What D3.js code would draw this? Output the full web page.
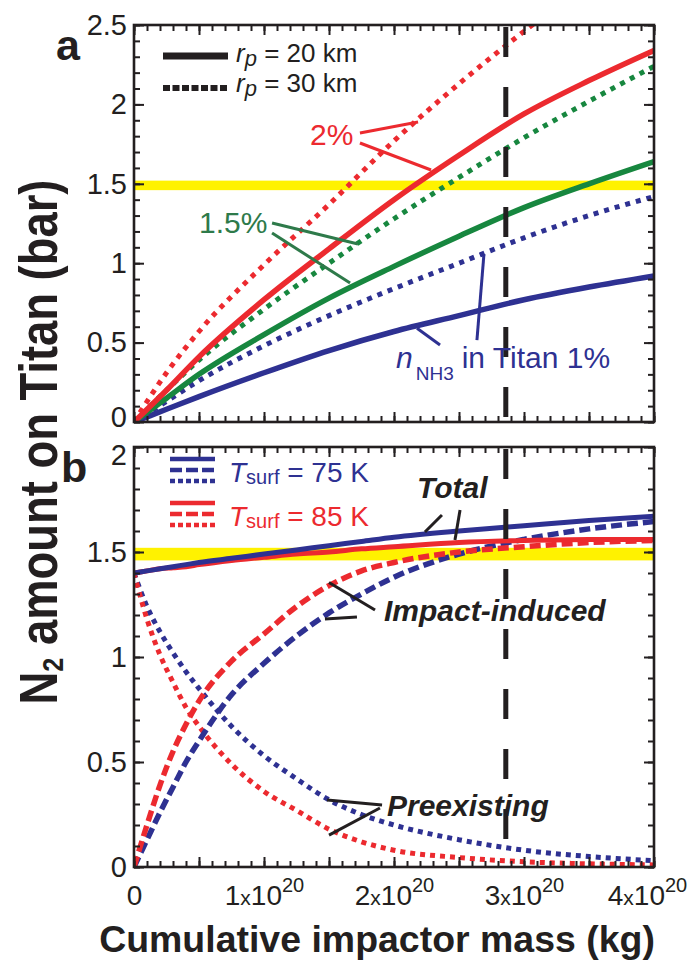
<!DOCTYPE html>
<html><head><meta charset="utf-8">
<script src="https://cdn.jsdelivr.net/npm/d3@7"></script>
<style>
body{margin:0;background:#fff}
svg{display:block}
text{font-family:"Liberation Sans",Arial,Helvetica,sans-serif}
</style>
</head><body>
<svg id="c" width="689" height="969"></svg>
<script>
// ---------------- DATA ----------------
// Panel a: x = cumulative impactor mass (1e20 kg), y = N2 amount (bar)
const massA   = [0, 0.25, 0.5, 1, 1.5, 2, 2.5, 3, 3.5, 4];
const red20   = [0, 0.20, 0.41, 0.77, 1.09, 1.40, 1.68, 1.94, 2.15, 2.34];
const red30   = [0, 0.31, 0.57, 0.99, 1.37, 1.77, 2.13, 2.46, 2.77, 3.05];
const green20 = [0, 0.15, 0.30, 0.55, 0.78, 0.98, 1.17, 1.35, 1.50, 1.64];
const green30 = [0, 0.20, 0.39, 0.71, 1.00, 1.28, 1.54, 1.79, 2.02, 2.24];
const blue20  = [0, 0.08, 0.16, 0.31, 0.45, 0.57, 0.67, 0.77, 0.85, 0.92];
const blue30  = [0, 0.13, 0.26, 0.48, 0.67, 0.84, 1.00, 1.16, 1.30, 1.42];

// Panel b
const massB       = [0, 0.1, 0.2, 0.3, 0.4, 0.5, 0.75, 1, 1.25, 1.5, 1.75, 2, 2.5, 3, 3.5, 4];
const totalBlue   = [1.40,1.41,1.42,1.43,1.44,1.45,1.47,1.49,1.51,1.53,1.55,1.57,1.60,1.625,1.65,1.67];
const totalRed    = [1.40,1.41,1.42,1.425,1.43,1.44,1.46,1.475,1.49,1.50,1.515,1.525,1.545,1.555,1.56,1.56];
const impactBlue  = [0,0.13,0.26,0.38,0.50,0.60,0.82,0.97,1.10,1.21,1.30,1.38,1.49,1.56,1.61,1.645];
const impactRed   = [0,0.20,0.39,0.55,0.68,0.79,0.98,1.11,1.24,1.34,1.41,1.45,1.50,1.525,1.545,1.555];
const preBlue     = [1.40,1.24,1.12,1.02,0.93,0.85,0.67,0.53,0.42,0.32,0.25,0.20,0.13,0.08,0.05,0.03];
const preRed      = [1.40,1.18,1.01,0.88,0.76,0.67,0.49,0.36,0.27,0.18,0.12,0.08,0.045,0.025,0.015,0.01];

const yellowBand = [1.46, 1.52];      // observed N2 pressure band (bar)
const markerMass = 2.86;              // vertical dashed line (1e20 kg)

const yTicksA = [0, 0.5, 1, 1.5, 2, 2.5];
const yLabelsA = ["0","0.5","1","1.5","2","2.5"];
const yTicksB = [0, 0.5, 1, 1.5, 2];
const yLabelsB = ["0","0.5","1","1.5","2"];
const xLabelTicks = [0, 1, 2, 3, 4];
const xLabelMant  = ["0","1","2","3","4"];

// ---------------- SETUP ----------------
const svg = d3.select("#c");
const RED="#ec2a2f", GREEN="#17873f", GREEN2="#2e7a4a", BLUE="#2e3192", YEL="#fff200", BLK="#231f20";
const X0=134, X1=654;
const x  = d3.scaleLinear().domain([0,4]).range([X0,X1]);
const yA = d3.scaleLinear().domain([0,2.5]).range([422,25]);
const yB = d3.scaleLinear().domain([0,2]).range([867,447]);

const defs = svg.append("defs");
defs.append("clipPath").attr("id","clipA").append("rect")
  .attr("x",X0).attr("y",yA(2.5)).attr("width",X1-X0).attr("height",yA(0)-yA(2.5));
defs.append("clipPath").attr("id","clipB").append("rect")
  .attr("x",X0).attr("y",yB(2)).attr("width",X1-X0).attr("height",yB(0)-yB(2));

function drawLine(g, xs, ys, y, color, width, dash){
  const line = d3.line().x((d,i)=>x(xs[i])).y(d=>y(d)).curve(d3.curveMonotoneX);
  g.append("path").attr("d", line(ys)).attr("fill","none")
    .attr("stroke",color).attr("stroke-width",width)
    .attr("stroke-dasharray", dash || null);
}

function panel(y, clipId, series, yMajor, yLabels, yMax, showXLabels){
  const g = svg.append("g");
  const pg = g.append("g").attr("clip-path",`url(#${clipId})`);
  pg.append("rect").attr("x",X0).attr("width",X1-X0)
    .attr("y",y(yellowBand[1])).attr("height",y(yellowBand[0])-y(yellowBand[1]))
    .attr("fill",YEL);
  series.forEach(s=>drawLine(pg, s.xs, s.ys, y, s.color, s.w, s.dash));
  pg.append("line").attr("x1",x(markerMass)).attr("x2",x(markerMass))
    .attr("y1",y(yMax)+2).attr("y2",y(0))
    .attr("stroke",BLK).attr("stroke-width",5).attr("stroke-dasharray","30,30");

  const yMinor = d3.range(0, yMax+1e-6, 0.1);
  const xMinor = d3.range(0, 4+1e-6, 0.1);
  const xMajor = d3.range(0, 4+1e-6, 0.5);
  const axes = g.append("g").attr("class","axes");
  axes.append("g").attr("transform",`translate(${X0},0)`).call(d3.axisLeft(y).tickValues(yMinor).tickSize(-6).tickFormat(""));
  axes.append("g").attr("transform",`translate(${X1},0)`).call(d3.axisRight(y).tickValues(yMinor).tickSize(-6).tickFormat(""));
  axes.append("g").attr("transform",`translate(${X1},0)`).call(d3.axisRight(y).tickValues(yMajor).tickSize(-10).tickFormat(""));
  axes.append("g").attr("class","ylab").attr("transform",`translate(${X0},0)`)
    .call(d3.axisLeft(y).tickValues(yMajor).tickSize(-10).tickPadding(7).tickFormat((d,i)=>yLabels[i]));
  axes.append("g").attr("transform",`translate(0,${y(yMax)})`).call(d3.axisTop(x).tickValues(xMinor).tickSize(-6).tickFormat(""));
  axes.append("g").attr("transform",`translate(0,${y(yMax)})`).call(d3.axisTop(x).tickValues(xMajor).tickSize(-10).tickFormat(""));
  axes.append("g").attr("transform",`translate(0,${y(0)})`).call(d3.axisBottom(x).tickValues(xMinor).tickSize(-6).tickFormat(""));
  axes.append("g").attr("transform",`translate(0,${y(0)})`).call(d3.axisBottom(x).tickValues(xMajor).tickSize(-10).tickFormat(""));
  if(showXLabels){
    const gx = axes.append("g").attr("class","xlab").attr("transform",`translate(0,${y(0)})`)
      .call(d3.axisBottom(x).tickValues(xLabelTicks).tickSize(0).tickPadding(18).tickFormat((d,i)=>xLabelMant[i]));
    gx.selectAll(".tick text").each(function(d,i){
      const t = d3.select(this);
      t.text(null).attr("font-size",28).attr("fill",BLK);
      if(d===4) t.attr("x",-7);
      t.append("tspan").text(xLabelMant[i]);
      if(d!==0){
        t.append("tspan").attr("font-size",21).text("x");
        t.append("tspan").text("10");
        t.append("tspan").attr("font-size",20).attr("dy",-13).text("20");
      }
    });
  }
  axes.selectAll(".domain").remove();
  axes.selectAll(".tick line").attr("stroke",BLK).attr("stroke-width",2);
  axes.selectAll(".ylab .tick text").attr("font-size",29).attr("fill",BLK);
  g.append("rect").attr("x",X0).attr("y",y(yMax)).attr("width",X1-X0).attr("height",y(0)-y(yMax))
    .attr("fill","none").attr("stroke",BLK).attr("stroke-width",2.6);
  return g;
}

// ---------------- PANEL A ----------------
const dotA = "5,6", solidW = 5.5;
const gA = panel(yA, "clipA", [
  {xs:massA, ys:blue30,  color:BLUE,  w:5, dash:dotA},
  {xs:massA, ys:blue20,  color:BLUE,  w:solidW},
  {xs:massA, ys:green30, color:GREEN, w:5, dash:dotA},
  {xs:massA, ys:green20, color:GREEN, w:solidW},
  {xs:massA, ys:red30,   color:RED,   w:5, dash:dotA},
  {xs:massA, ys:red20,   color:RED,   w:solidW},
], yTicksA, yLabelsA, 2.5, false);
gA.selectAll(".ylab .tick text").filter(d=>d===0).attr("y",-5);

function leader(g, y, p1, p2, color){
  g.append("line").attr("x1",x(p1[0])).attr("y1",y(p1[1])).attr("x2",x(p2[0])).attr("y2",y(p2[1]))
    .attr("stroke",color).attr("stroke-width",3);
}
leader(gA, yA, [1.738,1.82], [2.185,1.889], RED);
leader(gA, yA, [1.738,1.757], [2.285,1.587], RED);
gA.append("text").attr("x",310).attr("y",145).attr("font-size",30).attr("fill",RED).text("2%");
leader(gA, yA, [1.062,1.253], [1.723,1.121], GREEN2);
leader(gA, yA, [1.062,1.19], [1.662,0.875], GREEN2);
gA.append("text").attr("x",199).attr("y",233).attr("font-size",30).attr("fill",GREEN2).text("1.5%");
leader(gA, yA, [2.638,0.516], [2.692,1.058], BLUE);
leader(gA, yA, [2.177,0.59], [2.354,0.485], BLUE);
const tn = gA.append("text").attr("x",396).attr("y",368).attr("font-size",30).attr("fill",BLUE);
tn.append("tspan").attr("font-style","italic").text("n");
tn.append("tspan").attr("font-size",19).attr("dx",3).attr("dy",12).text("NH3");
tn.append("tspan").attr("dx",8).attr("dy",-12).text("in Titan 1%");

gA.append("line").attr("x1",163).attr("x2",228).attr("y1",56).attr("y2",56).attr("stroke",BLK).attr("stroke-width",7);
gA.append("line").attr("x1",163).attr("x2",228).attr("y1",88).attr("y2",88).attr("stroke",BLK).attr("stroke-width",6).attr("stroke-dasharray","7,2.5");
[["20",62],["30",92]].forEach(([v,by])=>{
  const t = gA.append("text").attr("x",236).attr("y",by).attr("font-size",26).attr("fill",BLK);
  t.append("tspan").attr("font-style","italic").text("r");
  t.append("tspan").attr("font-style","italic").attr("font-size",22).attr("dy",4).text("p");
  t.append("tspan").attr("dy",-4).text(" = " + v + " km");
});
gA.append("text").attr("x",56).attr("y",60).attr("font-size",43).attr("font-weight","bold").attr("fill",BLK).text("a");

// ---------------- PANEL B ----------------
const dashB = "11,5", dotB = "5,5";
const gB = panel(yB, "clipB", [
  {xs:massB, ys:preBlue,    color:BLUE, w:5, dash:dotB},
  {xs:massB, ys:preRed,     color:RED,  w:5, dash:dotB},
  {xs:massB, ys:impactBlue, color:BLUE, w:5.5, dash:dashB},
  {xs:massB, ys:impactRed,  color:RED,  w:5.5, dash:dashB},
  {xs:massB, ys:totalRed,   color:RED,  w:5},
  {xs:massB, ys:totalBlue,  color:BLUE, w:5},
], yTicksB, yLabelsB, 2, true);
gB.selectAll(".ylab .tick text").filter(d=>d===2).attr("y",8);

function boldIt(g, tx, ty, s){
  g.append("text").attr("x",tx).attr("y",ty).attr("font-size",30).attr("font-weight","bold")
    .attr("font-style","italic").attr("fill",BLK).text(s);
}
leader(gB, yB, [2.238,1.595], [2.369,1.676], BLK);
leader(gB, yB, [2.469,1.557], [2.508,1.70], BLK);
boldIt(gB, 417, 498, "Total");
leader(gB, yB, [1.50,1.355], [1.854,1.224], BLK);
leader(gB, yB, [1.469,1.181], [1.715,1.19], BLK);
boldIt(gB, 384, 621, "Impact-induced");
leader(gB, yB, [1.485,0.319], [1.908,0.295], BLK);
leader(gB, yB, [1.50,0.152], [1.892,0.281], BLK);
boldIt(gB, 387, 816, "Preexisting");

[[BLUE,459,"75"],[RED,503,"85"]].forEach(([c,y0,v])=>{
  gB.append("line").attr("x1",170).attr("x2",215).attr("y1",y0).attr("y2",y0).attr("stroke",c).attr("stroke-width",4.5);
  gB.append("line").attr("x1",170).attr("x2",215).attr("y1",y0+11).attr("y2",y0+11).attr("stroke",c).attr("stroke-width",4.5).attr("stroke-dasharray","12,4");
  gB.append("line").attr("x1",170).attr("x2",215).attr("y1",y0+22).attr("y2",y0+22).attr("stroke",c).attr("stroke-width",4.5).attr("stroke-dasharray","5,3");
  const t = gB.append("text").attr("x",229).attr("y",y0+23).attr("font-size",28).attr("fill",c);
  t.append("tspan").attr("font-style","italic").text("T");
  t.append("tspan").attr("font-size",20).attr("dy",2).text("surf");
  t.append("tspan").attr("dy",-2).text(" = " + v + " K");
});
gB.append("text").attr("x",61).attr("y",482).attr("font-size",43).attr("font-weight","bold").attr("fill",BLK).text("b");

// ---------------- TITLES ----------------
const yt = svg.append("text").attr("font-size",54).attr("font-weight","bold").attr("fill",BLK)
  .attr("text-anchor","middle");
yt.append("tspan").text("N");
yt.append("tspan").attr("font-size",30).attr("dy",6).text("2");
yt.append("tspan").attr("dy",-6).text(" amount on Titan (bar)");
const ytLen = yt.node().getComputedTextLength();
yt.attr("transform",`translate(57,442) rotate(-90) scale(${525/ytLen},1)`);

const xt = svg.append("text").attr("font-size",37).attr("font-weight","bold").attr("fill",BLK)
  .attr("text-anchor","middle").text("Cumulative impactor mass (kg)");
const xtLen = xt.node().getComputedTextLength();
xt.attr("transform",`translate(377,952) scale(${556/xtLen},1)`);
</script>
</body></html>
